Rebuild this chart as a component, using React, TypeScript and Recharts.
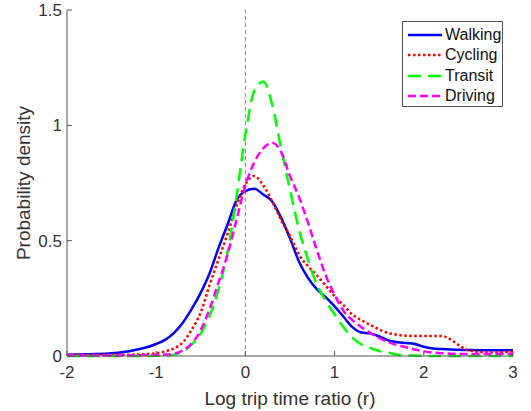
import { LineChart, Line, XAxis, YAxis, ReferenceLine } from "recharts";

const xs = [
  -2, -1.75, -1.5, -1.25, -1, -0.9, -0.8, -0.7, -0.6, -0.5, -0.4, -0.3, -0.2, -0.1, 0, 0.1, 0.2, 0.3,
  0.4, 0.5, 0.6, 0.7, 0.8, 0.9, 1.0, 1.1, 1.2, 1.3, 1.4, 1.5, 1.6, 1.7, 1.8, 1.9, 2.0, 2.1, 2.2, 2.3,
  2.4, 2.5, 2.75, 3,
];

const walking = [
  0.005, 0.008, 0.012, 0.025, 0.052, 0.07, 0.1, 0.145, 0.205, 0.275, 0.36, 0.47, 0.57, 0.675, 0.715,
  0.725, 0.7, 0.67, 0.6, 0.51, 0.41, 0.34, 0.29, 0.255, 0.215, 0.17, 0.125, 0.102, 0.098, 0.085,
  0.068, 0.06, 0.056, 0.052, 0.04, 0.033, 0.03, 0.028, 0.027, 0.026, 0.025, 0.025,
];

const cycling = [
  0.005, 0.005, 0.005, 0.006, 0.012, 0.02, 0.033, 0.06, 0.115, 0.19, 0.31, 0.42, 0.53, 0.65, 0.745,
  0.78, 0.74, 0.67, 0.59, 0.52, 0.44, 0.39, 0.35, 0.305, 0.26, 0.22, 0.18, 0.155, 0.135, 0.115, 0.1,
  0.092, 0.088, 0.087, 0.087, 0.087, 0.087, 0.072, 0.045, 0.025, 0.015, 0.02,
];

const transit = [
  0, 0, 0, 0, 0.001, 0.002, 0.006, 0.02, 0.05, 0.098, 0.175, 0.29, 0.45, 0.69, 0.96, 1.15, 1.19,
  1.09, 0.9, 0.72, 0.55, 0.42, 0.31, 0.24, 0.18, 0.125, 0.08, 0.05, 0.035, 0.022, 0.015, 0.006,
  0.003, 0.002, 0.001, 0, 0, 0, 0, 0, 0, 0,
];

const driving = [
  0.002, 0.002, 0.002, 0.003, 0.005, 0.006, 0.01, 0.025, 0.055, 0.113, 0.205, 0.32, 0.44, 0.59, 0.74,
  0.84, 0.9, 0.925, 0.885, 0.78, 0.69, 0.58, 0.46, 0.35, 0.265, 0.195, 0.155, 0.125, 0.1, 0.078,
  0.06, 0.048, 0.038, 0.028, 0.02, 0.015, 0.012, 0.01, 0.009, 0.009, 0.009, 0.01,
];

const xTicks = [-2, -1, 0, 1, 2, 3];
const yTicks = [0, 0.5, 1, 1.5];

const series = [
  { key: "walking", name: "Walking", color: "#0000ff", dash: undefined },
  { key: "cycling", name: "Cycling", color: "#ff0000", dash: "2.5 2.5" },
  { key: "transit", name: "Transit", color: "#00ff00", dash: "13 7" },
  { key: "driving", name: "Driving", color: "#ff00ff", dash: "8 4" },
];

const data = xs.map((x, i) => ({
  x,
  walking: walking[i],
  cycling: cycling[i],
  transit: transit[i],
  driving: driving[i],
}));

const font = "Arial, 'Liberation Sans', sans-serif";

// legend drawn as a plain box over the plot so it doesn't eat into the axes
function LegendBox() {
  return (
    <div
      style={{
        position: "absolute",
        left: 402,
        top: 21,
        width: 99,
        height: 84,
        border: "1px solid #555",
        background: "#fff",
        fontFamily: font,
        fontSize: 16,
        color: "#111",
        boxSizing: "content-box",
      }}
    >
      {series.map((s, i) => (
        <div
          key={s.key}
          style={{
            position: "absolute",
            top: 3 + i * 20.3,
            left: 0,
            display: "flex",
            alignItems: "center",
            height: 20,
          }}
        >
          <svg width={38} height={10} style={{ marginLeft: 4 }}>
            <line
              x1={1}
              y1={5}
              x2={35}
              y2={5}
              stroke={s.color}
              strokeWidth={2.5}
              strokeDasharray={s.dash}
            />
          </svg>
          <span>{s.name}</span>
        </div>
      ))}
    </div>
  );
}

export default function App() {
  return (
    <div style={{ position: "absolute", left: 0, top: 0, width: 531, height: 411, background: "#fff" }}>
      <LineChart
        width={531}
        height={411}
        data={data}
        margin={{ top: 10, right: 18, bottom: 0, left: 10 }}
      >
        <XAxis
          dataKey="x"
          type="number"
          domain={[-2, 3]}
          ticks={xTicks}
          height={55}
          tickSize={-5}
          tickMargin={15}
          stroke="#555"
          tick={{ fill: "#333", fontSize: 17, fontFamily: font }}
          label={{
            value: "Log trip time ratio (r)",
            position: "insideBottom",
            offset: 6,
            fill: "#333",
            fontSize: 19,
            fontFamily: font,
          }}
        />
        <YAxis
          type="number"
          domain={[0, 1.5]}
          ticks={yTicks}
          width={57}
          tickSize={-5}
          tickMargin={10}
          stroke="#555"
          tick={{ fill: "#333", fontSize: 17, fontFamily: font }}
          label={{
            value: "Probability density",
            angle: -90,
            position: "insideLeft",
            offset: 13,
            style: { textAnchor: "middle" },
            fill: "#333",
            fontSize: 19,
            fontFamily: font,
          }}
        />
        <ReferenceLine x={0} stroke="#888" strokeDasharray="4 3" strokeWidth={1} />
        {series.map((s) => (
          <Line
            key={s.key}
            type="monotone"
            dataKey={s.key}
            name={s.name}
            stroke={s.color}
            strokeWidth={2.5}
            strokeDasharray={s.dash}
            dot={false}
            isAnimationActive={false}
          />
        ))}
      </LineChart>
      <LegendBox />
    </div>
  );
}
